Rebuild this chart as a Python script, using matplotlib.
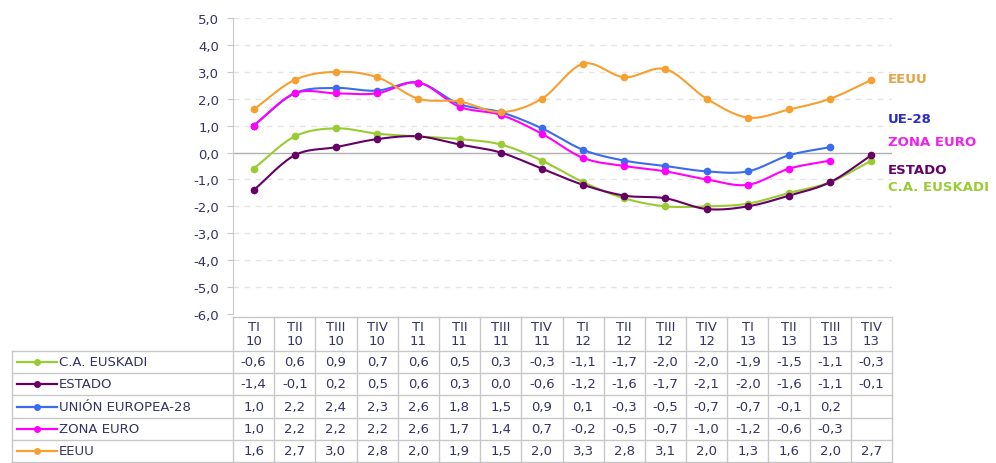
import matplotlib
matplotlib.use("Agg")
import matplotlib.pyplot as plt
import numpy as np

quarters = ["TI\n10", "TII\n10", "TIII\n10", "TIV\n10", "TI\n11", "TII\n11", "TIII\n11", "TIV\n11",
            "TI\n12", "TII\n12", "TIII\n12", "TIV\n12", "TI\n13", "TII\n13", "TIII\n13", "TIV\n13"]

euskadi = [-0.6, 0.6, 0.9, 0.7, 0.6, 0.5, 0.3, -0.3, -1.1, -1.7, -2.0, -2.0, -1.9, -1.5, -1.1, -0.3]
estado = [-1.4, -0.1, 0.2, 0.5, 0.6, 0.3, 0.0, -0.6, -1.2, -1.6, -1.7, -2.1, -2.0, -1.6, -1.1, -0.1]
ue28 = [1.0, 2.2, 2.4, 2.3, 2.6, 1.8, 1.5, 0.9, 0.1, -0.3, -0.5, -0.7, -0.7, -0.1, 0.2, None]
zona = [1.0, 2.2, 2.2, 2.2, 2.6, 1.7, 1.4, 0.7, -0.2, -0.5, -0.7, -1.0, -1.2, -0.6, -0.3, None]
eeuu = [1.6, 2.7, 3.0, 2.8, 2.0, 1.9, 1.5, 2.0, 3.3, 2.8, 3.1, 2.0, 1.3, 1.6, 2.0, 2.7]

series = [
    ("C.A. EUSKADI", euskadi, "#99cc33", "#99cc33", "C.A. EUSKADI"),
    ("ESTADO", estado, "#660066", "#660066", "ESTADO"),
    ("UNIÓN EUROPEA-28", ue28, "#3b6cf0", "#2a2acc", "UE-28"),
    ("ZONA EURO", zona, "#ff00ff", "#ee22ee", "ZONA EURO"),
    ("EEUU", eeuu, "#f5a030", "#e8a040", "EEUU"),
]
end_labels_y = {"EEUU": 2.75, "UE-28": 1.25, "ZONA EURO": 0.4, "ESTADO": -0.63, "C.A. EUSKADI": -1.27}

navy = "#333366"
grid_c = "#c8c8c8"


def smooth(xs, ys, n=16):
    # catmull-rom curve through the points, just for drawing
    xs = np.asarray(xs, float)
    ys = np.asarray(ys, float)
    px = np.concatenate([[2 * xs[0] - xs[1]], xs, [2 * xs[-1] - xs[-2]]])
    py = np.concatenate([[2 * ys[0] - ys[1]], ys, [2 * ys[-1] - ys[-2]]])
    outx, outy = [], []
    t = np.linspace(0, 1, n)
    for i in range(1, len(px) - 2):
        for p, out in ((px, outx), (py, outy)):
            p0, p1, p2, p3 = p[i - 1], p[i], p[i + 1], p[i + 2]
            v = 0.5 * (2 * p1 + (-p0 + p2) * t + (2 * p0 - 5 * p1 + 4 * p2 - p3) * t ** 2
                       + (-p0 + 3 * p1 - 3 * p2 + p3) * t ** 3)
            out.extend(v)
    return outx, outy


W, H = 996, 464
fig = plt.figure(figsize=(W / 100, H / 100), dpi=100)

# pixel overlay for the data table
bg = fig.add_axes([0, 0, 1, 1])
bg.set_xlim(0, W)
bg.set_ylim(H, 0)
bg.axis("off")

x0, x1 = 233, 892
ytop, ybot = 19, 315
ax = fig.add_axes([x0 / W, 1 - ybot / H, (x1 - x0) / W, (ybot - ytop) / H])
n = len(quarters)
xs = np.arange(n)
ax.set_xlim(-0.5, n - 0.5)
ax.set_ylim(-6, 5)
ax.set_yticks(np.arange(-6, 5.1, 1))
ax.set_yticklabels([f"{v:.1f}".replace(".", ",") for v in np.arange(-6, 5.1, 1)],
                   color=navy, fontsize=9.5)
ax.set_xticks([])
ax.tick_params(axis="y", length=4, color=grid_c, pad=6)
for s in ["top", "right", "bottom"]:
    ax.spines[s].set_visible(False)
ax.spines["left"].set_color(grid_c)
for v in range(-5, 6):
    if v == 0:
        ax.axhline(0, color="#b0b0b0", lw=1, zorder=1)
    else:
        ax.axhline(v, color="#e4e4e4", lw=1, ls=(0, (4, 4)), zorder=1)

for name, vals, col, lcol, short in series:
    pts = [(x, v) for x, v in zip(xs, vals) if v is not None]
    px = [p[0] for p in pts]
    py = [p[1] for p in pts]
    sx, sy = smooth(px, py)
    ax.plot(sx, sy, color=col, lw=1.5, zorder=3)
    ax.plot(px, py, "o", color=col, ms=4.5, zorder=4)
    ax.text(n - 0.6, end_labels_y[short], short, color=lcol, fontsize=9.5, fontweight="bold",
            va="center", ha="left", clip_on=False)

# table
cw = (x1 - x0) / n
hy0, hy1 = 318, 352
rows_y = [352, 374, 396, 419, 441, 463]
tcol = "#c8c8c8"
for i in range(n + 1):
    bg.plot([x0 + i * cw] * 2, [hy0, rows_y[-1]], color=tcol, lw=1)
bg.plot([x0, x1], [hy0, hy0], color=tcol, lw=1)
bg.plot([12, 12], [rows_y[0], rows_y[-1]], color=tcol, lw=1)
for y in rows_y:
    bg.plot([12, x1], [y, y], color=tcol, lw=1)
for i, q in enumerate(quarters):
    bg.text(x0 + (i + 0.5) * cw, (hy0 + hy1) / 2, q, ha="center", va="center",
            color=navy, fontsize=9.5, linespacing=1.1)
for r, (name, vals, col, lcol, short) in enumerate(series):
    yc = (rows_y[r] + rows_y[r + 1]) / 2
    bg.plot([17, 57], [yc, yc], color=col, lw=1.6)
    bg.plot([37], [yc], "o", color=col, ms=4)
    bg.text(59, yc, name, ha="left", va="center", color=navy, fontsize=9.5)
    for i, v in enumerate(vals):
        if v is None:
            continue
        bg.text(x0 + (i + 0.5) * cw, yc, f"{v:.1f}".replace(".", ","), ha="center",
                va="center", color=navy, fontsize=9.5)

fig.savefig("out.png", dpi=100)
